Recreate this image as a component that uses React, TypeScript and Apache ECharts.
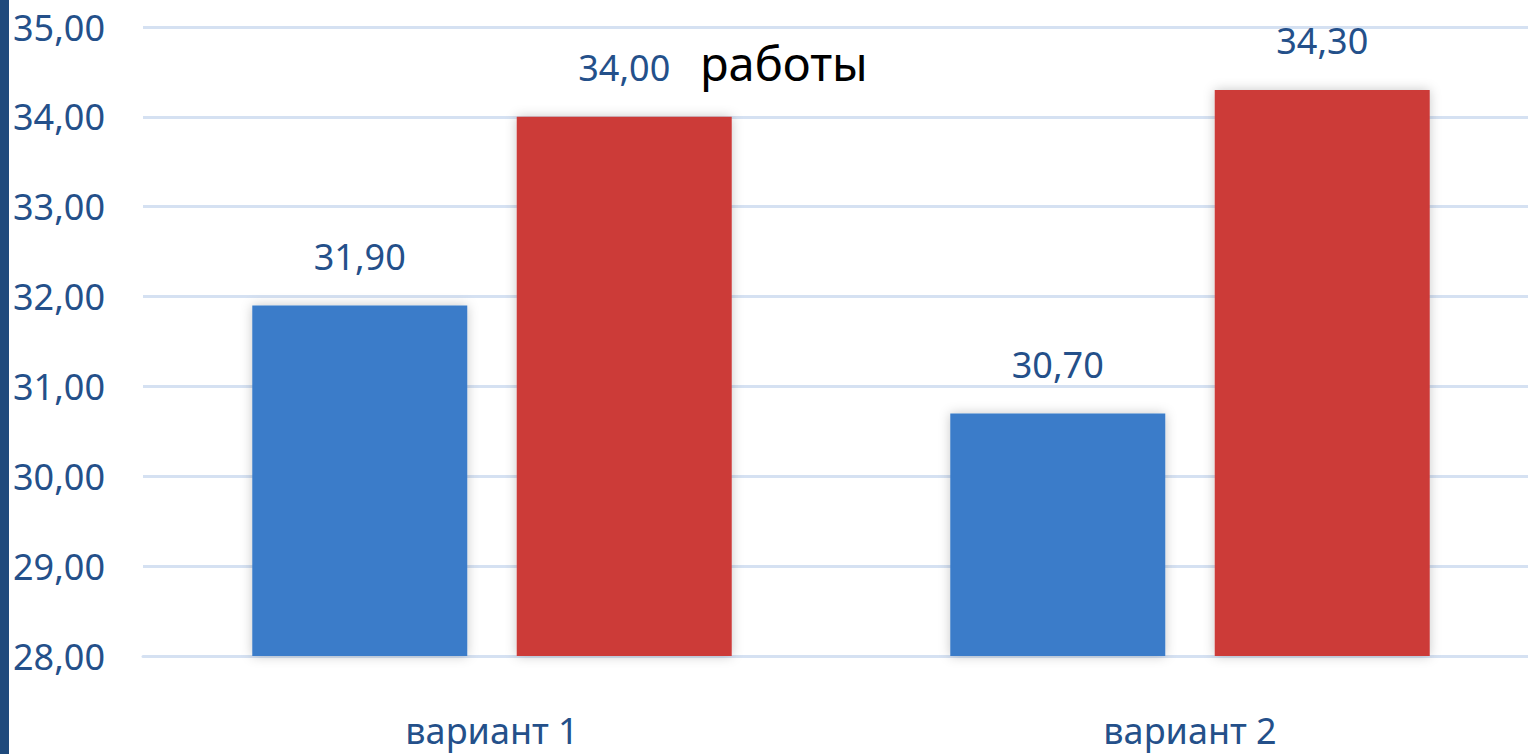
import React, { useEffect, useRef } from "react";
import * as echarts from "echarts";

const categories = ["вариант 1", "вариант 2"];
const seriesBlue = [31.9, 30.7];
const seriesRed = [34.0, 34.3];
const yMin = 28;
const yMax = 35;
const yInterval = 1;
const overlayText = "работы";

const fmt = (v: number) => v.toFixed(2).replace(".", ",");
const blueFont = '"Noto Sans", sans-serif';
const W = 1545;

export default function App() {
  const ref = useRef<HTMLDivElement>(null);
  useEffect(() => {
    if (!ref.current) return;
    const chart = echarts.init(ref.current, null, { renderer: "svg" });
    const labelStyle = {
      show: true,
      position: "top" as const,
      distance: 31,
      color: "#24508a",
      fontSize: 36,
      fontFamily: blueFont,
      formatter: (p: any) => fmt(p.value),
    };
    const itemShadow = {
      shadowBlur: 12,
      shadowColor: "rgba(0,0,0,0.22)",
    };
    chart.setOption({
      animation: false,
      backgroundColor: "#ffffff",
      grid: { left: 143, right: W - 143 - 1396, top: 27, bottom: 98 },
      xAxis: {
        type: "category",
        data: categories,
        axisTick: { show: false },
        axisLine: { show: true, lineStyle: { color: "#d5e1f2", width: 3 } },
        axisLabel: {
          color: "#24508a",
          fontSize: 36,
          lineHeight: 38,
          fontFamily: blueFont,
          margin: 55,
        },
      },
      yAxis: {
        type: "value",
        min: yMin,
        max: yMax,
        interval: yInterval,
        axisLine: { show: false },
        axisTick: { show: false },
        splitLine: { lineStyle: { color: "#d5e1f2", width: 3 } },
        axisLabel: {
          color: "#24508a",
          fontSize: 36,
          fontFamily: blueFont,
          align: "left",
          margin: 130,
          formatter: (v: number) => fmt(v),
        },
      },
      series: [
        {
          type: "bar",
          data: seriesBlue,
          barWidth: 215,
          barGap: "23%",
          itemStyle: { color: "#3a7cc9", ...itemShadow },
          label: labelStyle,
        },
        {
          type: "bar",
          data: seriesRed,
          barWidth: 215,
          itemStyle: { color: "#cc3a37", ...itemShadow },
          label: labelStyle,
        },
      ],
      graphic: [
        {
          type: "rect",
          left: 0,
          top: 0,
          shape: { x: 0, y: 0, width: 9, height: 754 },
          style: { fill: "#1f4a7c" },
        },
        {
          type: "text",
          x: 700,
          y: 63,
          style: {
            text: overlayText,
            fill: "#000000",
            fontSize: 47,
            fontFamily: '"Noto Sans", sans-serif',
            verticalAlign: "middle",
          },
        },
      ],
    });
    return () => chart.dispose();
  }, []);
  return (
    <div
      ref={ref}
      style={{ position: "fixed", left: 0, top: 0, width: W, height: 754 }}
    />
  );
}
